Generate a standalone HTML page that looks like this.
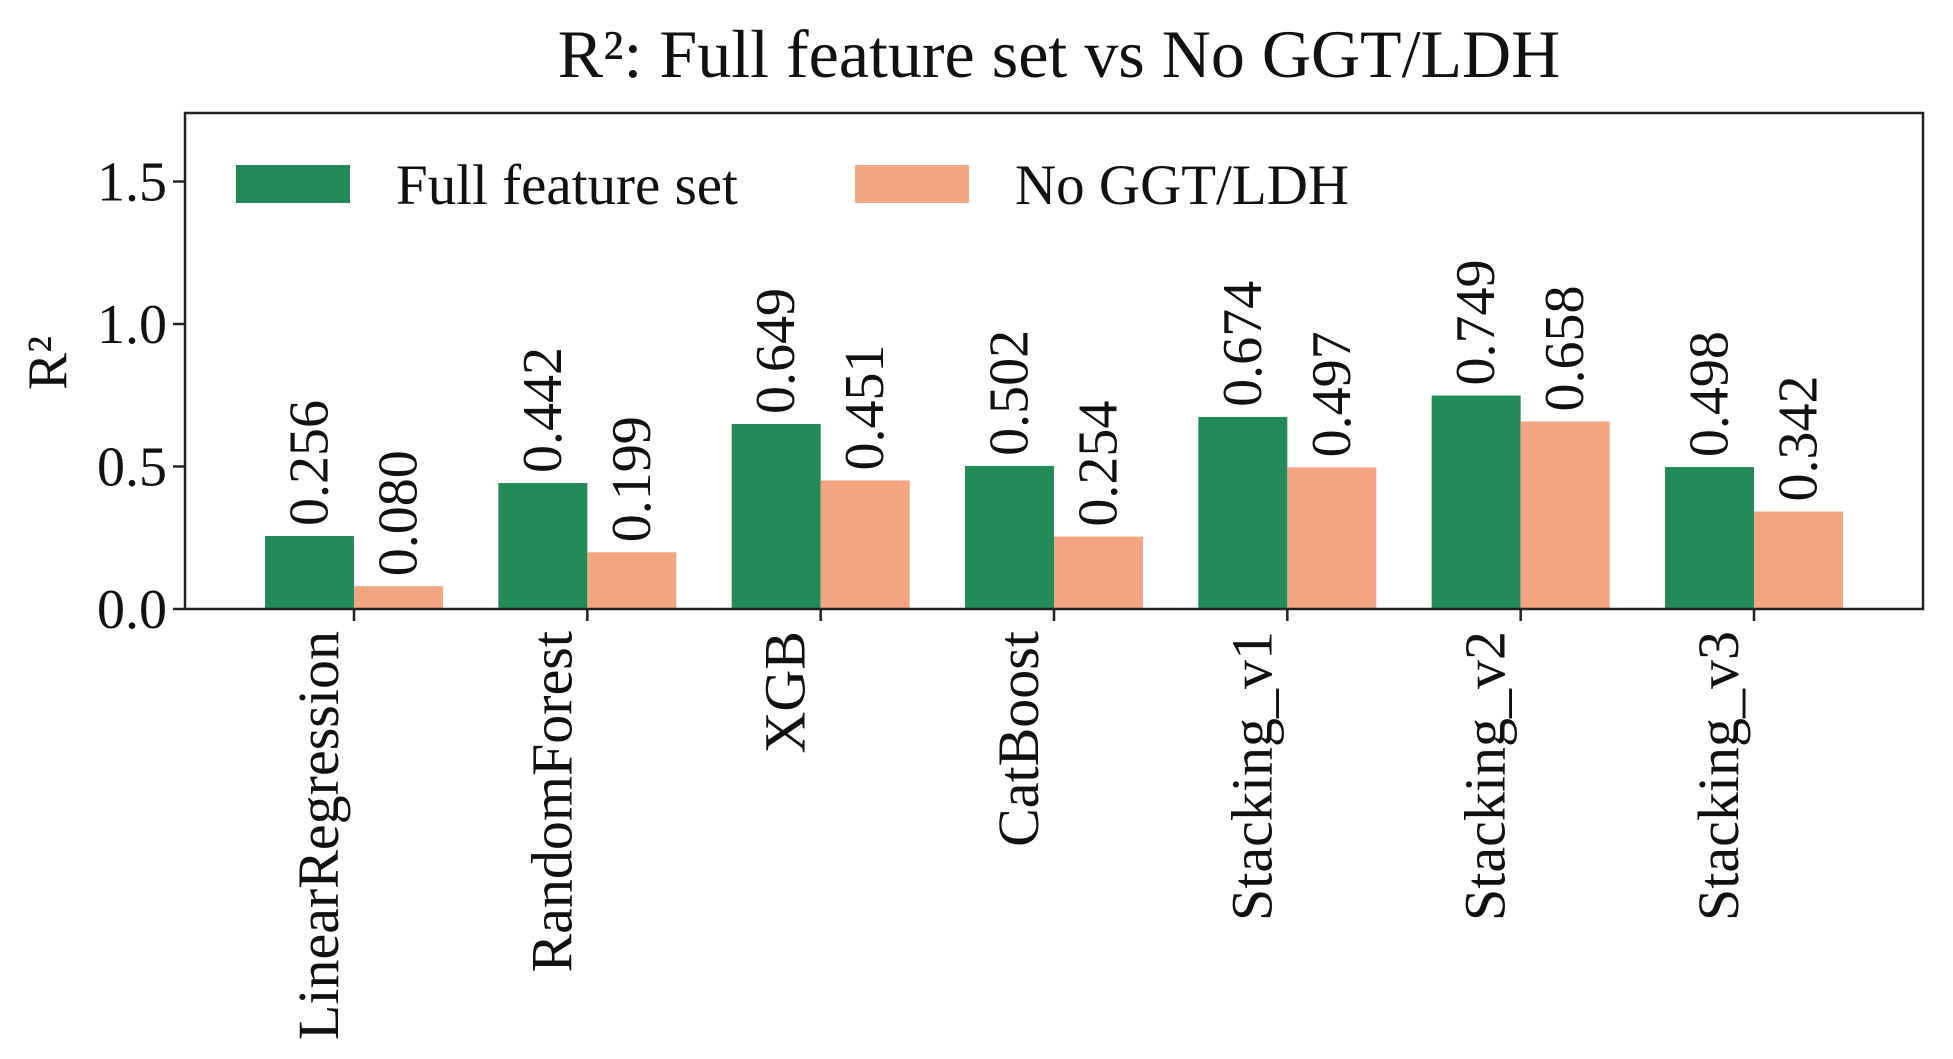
<!DOCTYPE html>
<html><head><meta charset="utf-8"><style>
html,body{margin:0;padding:0;background:#fff;}
svg{display:block;font-family:"Liberation Serif",serif;}
</style></head><body>
<svg id="chart" width="1953" height="1059" viewBox="0 0 1953 1059" xmlns="http://www.w3.org/2000/svg">
<text x="1059" y="77" font-size="68" text-anchor="middle" fill="#111">R²: Full feature set vs No GGT/LDH</text>
<text transform="translate(66,363) rotate(-90)" font-size="56" text-anchor="middle" fill="#111">R²</text>
<g id="bars"></g>
<g id="axes"></g>
<g>
<rect x="236" y="165" width="114" height="38" fill="#238b57"/>
<text x="396" y="204" font-size="57" fill="#111">Full feature set</text>
<rect x="855" y="165" width="114" height="38" fill="#f4a582"/>
<text x="1015" y="204" font-size="57" fill="#111">No GGT/LDH</text>
</g>
</svg>
<script>
const categories=["LinearRegression","RandomForest","XGB","CatBoost","Stacking_v1","Stacking_v2","Stacking_v3"];
const fullValues=[0.256,0.442,0.649,0.502,0.674,0.749,0.498];
const noGGTValues=[0.080,0.199,0.451,0.254,0.497,0.658,0.342];
const yTicks=[0.0,0.5,1.0,1.5];
const yTickLabels=["0.0","0.5","1.0","1.5"];

const L=185,R=1923,T=113,B=609,yMax=(B-T)/285;
const NS="http://www.w3.org/2000/svg";
function y(v){return B-(v/yMax)*(B-T);}
function xc(i){return 354+i*(1754-354)/6;}
const bw=89;
function mk(tag,attrs,parent){const e=document.createElementNS(NS,tag);for(const k in attrs)e.setAttribute(k,attrs[k]);parent.appendChild(e);return e;}
const bars=document.getElementById('bars'),axes=document.getElementById('axes');
categories.forEach((c,i)=>{
  const cx=xc(i);
  [[fullValues[i],cx-bw,"#238b57","full"],[noGGTValues[i],cx,"#f4a582","nogg"]].forEach(([v,x0,col,s])=>{
    const r=mk('rect',{x:x0,y:y(v),width:bw,height:B-y(v),fill:col},bars);
    
    
    const t=mk('text',{transform:`translate(${x0+bw/2+18},${y(v)-10}) rotate(-90)`,'font-size':56,fill:'#111'},bars);
    t.textContent=v.toFixed(3);
    
    
  });
  const tk=mk('line',{x1:cx,x2:cx,y1:B,y2:B+12,stroke:'#222','stroke-width':2.5},axes);
  
  
  const lb=mk('text',{transform:`translate(${cx-16},${B+22}) rotate(-90)`,'font-size':58,'text-anchor':'end',fill:'#111'},axes);
  lb.textContent=c;
  
  
});
yTicks.forEach((v,i)=>{
  const tk=mk('line',{x1:L-12,x2:L,y1:y(v),y2:y(v),stroke:'#222','stroke-width':2.5},axes);
  
  
  const t=mk('text',{x:L-18,y:y(v)+19,'font-size':56,'text-anchor':'end',fill:'#111'},axes);
  t.textContent=yTickLabels[i];
  
  
});
const fr=mk('rect',{x:L,y:T,width:R-L,height:B-T,fill:'none',stroke:'#222','stroke-width':2.5},axes);


</script>
</body></html>
